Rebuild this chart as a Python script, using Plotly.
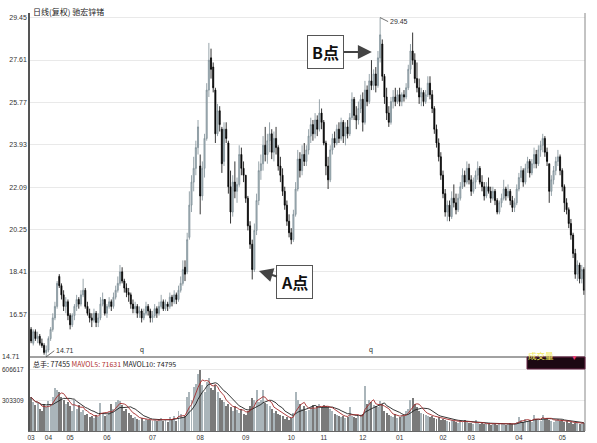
import plotly.graph_objects as go
import pandas as pd

# ---------------- data ----------------
month_labels = ["03", "04", "05", "06", "07", "08", "09", "10", "11", "12", "01", "02", "03", "04", "05"]
month_counts = [8, 10, 17, 21, 22, 21, 21, 15, 18, 17, 20, 13, 22, 20, 11]

opens = [
    15.9, 15.3, 15.8, 15.5, 15.6, 15.3, 15.2, 14.9,
    15.0, 15.5, 15.9, 16.4, 16.9, 18.2, 17.8, 17.4, 16.9, 17.1,
    16.5, 16.1, 16.5, 16.9, 17.2, 17.0, 17.4, 17.6, 16.9, 16.6, 16.4, 16.3, 16.6, 16.2, 16.4, 17.0, 17.2,
    16.6, 16.9, 17.1, 16.9, 17.3, 17.6, 17.9, 18.4, 18.0, 17.7, 17.5, 17.4, 17.0, 16.8, 16.9, 16.6, 16.7, 16.4, 16.6, 16.9, 16.7,
    16.4, 16.5, 16.8, 16.6, 16.9, 17.1, 16.8, 17.0, 16.9, 17.3, 17.1, 17.4, 17.2, 17.6, 17.9, 18.6, 18.4, 19.9, 21.3, 22.3, 22.9, 23.8,
    23.0, 21.7, 22.9, 24.2, 26.3, 27.7, 27.3, 26.3, 24.4, 25.4, 24.6, 23.2, 24.6, 24.0, 22.1, 21.0, 22.3, 21.9, 22.2, 23.5, 22.9,
    22.6, 21.6, 20.4, 19.6, 18.5, 20.2, 21.5, 22.8, 23.1, 23.9, 23.5, 24.1, 24.4, 23.6, 24.2, 23.8, 23.0, 22.6, 21.9, 21.3, 20.6,
    20.1, 19.8, 20.9, 22.0, 23.3, 22.8, 23.5, 23.2, 23.7, 24.3, 24.8, 24.4, 25.0, 24.6, 25.3,
    24.9, 24.0, 23.0, 22.4, 23.7, 24.2, 24.0, 24.6, 24.2, 24.9, 24.3, 24.7, 24.4, 25.1, 25.9, 25.2, 25.0, 25.5,
    25.9, 24.9, 26.3, 25.8, 26.7, 26.5, 27.0, 26.5, 27.7, 28.3, 26.9, 26.0, 25.3, 24.9, 25.8, 26.0, 25.8,
    26.1, 25.8, 26.1, 26.0, 26.4, 27.2, 28.0, 27.6, 26.8, 26.4, 26.0, 26.2, 25.8, 26.1, 26.6, 26.1, 25.5, 24.6, 24.0, 23.4,
    22.6, 21.8, 21.0, 21.3, 20.8, 21.6, 21.4, 21.1, 21.6, 22.1, 22.6, 22.3, 22.9,
    22.4, 21.9, 22.3, 22.6, 22.9, 22.3, 22.1, 21.7, 22.1, 21.9, 21.6, 21.9, 21.5, 21.0, 21.4, 21.6, 22.0, 21.7, 21.9, 21.5, 21.2, 21.4,
    22.0, 22.5, 22.8, 22.3, 22.9, 23.2, 22.7, 23.1, 23.5, 23.1, 23.7, 23.9, 24.2, 23.6, 23.1, 21.9, 22.4, 22.8, 23.2, 23.4,
    22.8, 22.1, 21.4, 21.1, 20.5, 20.0, 19.2, 18.3, 18.7, 18.1, 18.5,
]
highs = [
    16.0, 15.9, 15.9, 15.8, 15.7, 15.5, 15.3, 15.2,
    15.6, 16.0, 16.6, 17.1, 18.0, 18.3, 17.9, 17.6, 17.3, 17.2,
    16.6, 16.6, 17.0, 17.4, 17.3, 17.6, 18.1, 17.7, 17.1, 16.8, 16.6, 16.8, 16.7, 16.6, 17.3, 17.5, 17.2,
    17.0, 17.3, 17.2, 17.5, 17.8, 18.2, 18.7, 18.6, 18.1, 17.9, 17.7, 17.5, 17.2, 17.1, 17.0, 16.9, 16.8, 16.8, 17.1, 17.0, 16.8,
    16.7, 17.0, 16.9, 17.1, 17.4, 17.2, 17.2, 17.1, 17.5, 17.4, 17.6, 17.5, 17.8, 18.2, 18.9, 18.9, 20.1, 21.9, 22.6, 23.4, 24.1, 25.0,
    23.5, 23.2, 24.4, 26.6, 28.35, 28.1, 27.5, 26.4, 25.7, 25.6, 24.7, 24.9, 24.9, 24.1, 22.8, 22.6, 23.2, 22.5, 23.9, 23.8, 23.2,
    22.6, 21.7, 20.6, 19.8, 20.5, 21.8, 23.2, 23.5, 24.3, 24.7, 24.4, 24.9, 24.6, 24.5, 24.7, 23.9, 23.4, 22.9, 22.1, 21.5, 20.9,
    20.3, 21.1, 22.3, 23.7, 23.6, 23.9, 24.0, 23.9, 24.6, 25.1, 25.0, 25.3, 25.2, 25.9, 25.5,
    25.0, 24.1, 23.4, 23.9, 24.4, 24.5, 24.8, 24.9, 25.1, 25.0, 24.9, 25.0, 25.3, 26.2, 26.0, 25.6, 25.8, 26.1,
    26.2, 26.7, 26.5, 27.0, 27.6, 27.2, 27.3, 28.0, 29.45, 28.5, 27.0, 26.4, 25.6, 26.0, 26.3, 26.4, 26.3,
    26.4, 26.2, 26.3, 26.6, 27.4, 28.3, 28.8, 27.9, 27.5, 26.8, 26.4, 26.3, 26.3, 26.9, 26.9, 26.3, 25.6, 24.8, 24.2, 23.6,
    22.8, 22.0, 21.5, 21.5, 21.9, 22.2, 21.8, 21.8, 22.3, 22.9, 22.8, 23.2, 23.1,
    22.6, 22.5, 22.8, 23.2, 23.0, 22.6, 22.3, 22.3, 22.5, 22.1, 22.1, 22.0, 21.6, 21.5, 21.8, 22.4, 22.1, 22.2, 22.0, 21.7, 21.6, 22.2,
    22.7, 23.0, 22.9, 23.1, 23.4, 23.3, 23.3, 23.8, 23.7, 23.9, 24.1, 24.4, 24.3, 23.8, 23.1, 22.6, 23.0, 23.4, 23.7, 23.5,
    22.9, 22.2, 21.6, 21.2, 20.7, 20.1, 19.4, 18.9, 18.8, 18.7, 18.6,
]
lows = [
    15.3, 15.2, 15.4, 15.3, 15.2, 15.1, 14.8, 14.71,
    14.9, 15.4, 15.8, 16.3, 16.8, 17.7, 17.2, 16.7, 16.6, 16.3,
    15.9, 16.0, 16.3, 16.7, 16.8, 16.9, 17.3, 16.8, 16.5, 16.2, 16.0, 16.2, 16.0, 16.0, 16.3, 16.9, 16.5,
    16.4, 16.8, 16.7, 16.8, 17.2, 17.5, 17.8, 17.9, 17.5, 17.3, 17.1, 16.8, 16.6, 16.6, 16.4, 16.4, 16.2, 16.3, 16.5, 16.5, 16.2,
    16.2, 16.4, 16.4, 16.5, 16.8, 16.7, 16.7, 16.7, 16.8, 16.9, 17.0, 17.0, 17.1, 17.5, 17.8, 18.0, 18.3, 19.8, 21.0, 21.9, 22.6, 23.5,
    20.9, 21.5, 22.5, 24.1, 26.0, 26.8, 26.2, 24.0, 24.3, 24.5, 22.7, 23.0, 24.0, 21.8, 20.5, 20.8, 21.6, 21.4, 22.1, 22.6, 22.3,
    21.4, 20.2, 19.4, 18.07, 18.4, 20.0, 21.3, 22.4, 22.8, 23.2, 23.1, 23.6, 23.3, 23.2, 23.5, 22.8, 22.3, 21.7, 21.1, 20.4, 19.9,
    19.6, 19.7, 20.8, 21.9, 22.5, 22.6, 23.0, 23.0, 23.5, 24.0, 24.1, 24.2, 24.3, 24.5, 24.6,
    23.9, 22.6, 22.0, 22.3, 23.5, 23.8, 23.9, 24.0, 24.1, 24.0, 23.9, 24.2, 24.3, 25.0, 25.0, 24.6, 24.8, 25.3,
    24.5, 24.8, 25.6, 25.7, 26.3, 26.3, 26.2, 26.4, 27.5, 26.7, 25.7, 25.0, 24.7, 24.8, 25.5, 25.6, 25.7,
    25.6, 25.6, 25.8, 25.9, 26.3, 27.0, 27.4, 26.6, 26.2, 25.7, 25.6, 25.6, 25.7, 26.0, 25.9, 25.3, 24.4, 23.8, 23.2, 22.4,
    21.6, 20.8, 20.6, 20.6, 20.7, 21.2, 20.9, 21.0, 21.5, 22.0, 22.1, 22.2, 22.2,
    21.7, 21.8, 22.0, 22.4, 22.2, 21.9, 21.5, 21.6, 21.8, 21.4, 21.5, 21.3, 20.9, 20.9, 21.2, 21.5, 21.5, 21.6, 21.3, 21.0, 21.0, 21.3,
    21.9, 22.3, 22.1, 22.2, 22.7, 22.5, 22.6, 22.9, 22.9, 23.0, 23.4, 23.6, 23.4, 23.0, 21.4, 21.7, 22.2, 22.6, 23.0, 22.6,
    21.9, 21.0, 20.9, 20.3, 19.8, 19.0, 18.1, 18.0, 17.9, 17.9, 17.4,
]
closes = [
    15.4, 15.8, 15.5, 15.6, 15.3, 15.2, 14.9, 15.0,
    15.5, 15.9, 16.4, 16.9, 17.9, 17.8, 17.4, 16.9, 17.1, 16.5,
    16.1, 16.5, 16.9, 17.2, 17.0, 17.4, 17.6, 16.9, 16.6, 16.4, 16.3, 16.6, 16.2, 16.4, 17.0, 17.2, 16.6,
    16.9, 17.1, 16.9, 17.3, 17.6, 17.9, 18.4, 18.0, 17.7, 17.5, 17.4, 17.0, 16.8, 16.9, 16.6, 16.7, 16.4, 16.6, 16.9, 16.7, 16.4,
    16.5, 16.8, 16.6, 16.9, 17.1, 16.8, 17.0, 16.9, 17.3, 17.1, 17.4, 17.2, 17.6, 17.9, 18.5, 18.3, 19.8, 21.3, 22.3, 22.9, 23.8, 24.7,
    21.7, 22.9, 24.2, 26.3, 27.6, 27.2, 26.4, 24.4, 25.4, 24.8, 23.1, 24.6, 24.2, 22.1, 21.0, 22.3, 21.9, 22.2, 23.5, 22.9, 22.6,
    21.6, 20.4, 19.6, 18.5, 20.2, 21.5, 22.8, 23.1, 23.9, 23.5, 24.1, 24.4, 23.6, 24.2, 23.8, 23.0, 22.6, 21.9, 21.3, 20.6, 20.1,
    19.8, 20.9, 22.0, 23.3, 22.8, 23.5, 23.2, 23.7, 24.3, 24.8, 24.4, 25.0, 24.6, 25.3, 24.9,
    24.0, 23.0, 22.4, 23.7, 24.2, 24.0, 24.6, 24.2, 24.9, 24.3, 24.7, 24.4, 25.1, 25.9, 25.2, 25.0, 25.5, 25.9,
    24.9, 26.3, 25.8, 26.7, 26.5, 27.0, 26.5, 27.7, 28.7, 26.9, 26.0, 25.3, 24.9, 25.8, 26.0, 25.8, 26.1,
    25.8, 26.1, 26.0, 26.4, 27.2, 28.0, 27.6, 26.8, 26.4, 26.0, 26.2, 25.8, 26.1, 26.6, 26.1, 25.5, 24.6, 24.0, 23.4, 22.6,
    21.8, 21.0, 21.3, 20.8, 21.6, 21.4, 21.1, 21.6, 22.1, 22.6, 22.3, 22.9, 22.4,
    21.9, 22.3, 22.6, 22.9, 22.3, 22.1, 21.7, 22.1, 21.9, 21.6, 21.9, 21.5, 21.0, 21.4, 21.6, 22.0, 21.7, 21.9, 21.5, 21.2, 21.4, 22.0,
    22.5, 22.8, 22.3, 22.9, 23.2, 22.7, 23.1, 23.5, 23.1, 23.7, 23.9, 24.2, 23.6, 23.2, 21.9, 22.4, 22.8, 23.2, 23.4, 22.8,
    22.1, 21.4, 21.1, 20.5, 20.0, 19.2, 18.3, 18.7, 18.1, 18.5, 17.6,
]
volume_k = [
    330, 280, 250, 270, 220, 200, 260, 230,
    290, 250, 330, 420, 400, 380, 330, 300, 260, 280,
    240, 200, 300, 220, 250, 190, 210, 160, 170, 140, 150, 130, 160, 140, 270, 180, 150,
    160, 190, 260, 220, 280, 300, 290, 250, 200, 220, 180, 160, 130, 140, 120, 110, 130, 100, 120, 110, 105,
    100, 110, 95, 120, 130, 100, 110, 90, 140, 120, 150, 100, 200, 170, 130, 150, 330, 380, 300, 430, 460, 560,
    600, 450, 380, 480, 520, 420, 400, 450, 380, 320, 300, 280, 240, 260, 230, 200, 240, 210, 180, 220, 170,
    160, 200, 240, 320, 300, 400, 280, 300, 400, 270, 260, 240, 220, 180, 200, 170, 160, 150, 120, 140, 110,
    130, 180, 380, 300, 260, 220, 240, 200, 210, 230, 250, 220, 240, 260, 230,
    250, 240, 230, 220, 200, 170, 160, 150, 140, 150, 130, 140, 230, 150, 140, 130, 150, 160,
    170, 440, 260, 300, 280, 250, 240, 230, 290, 260, 200, 180, 160, 150, 140, 170, 130,
    140, 160, 150, 200, 220, 300, 320, 260, 230, 200, 180, 170, 160, 150, 140, 150, 130, 120, 140, 110,
    120, 110, 100, 90, 110, 100, 90, 80, 100, 90, 110, 90, 80,
    80, 70, 110, 80, 70, 75, 65, 70, 80, 60, 70, 65, 60, 70, 75, 65, 60, 70, 80, 65, 75, 90,
    140, 110, 90, 120, 100, 110, 90, 160, 120, 110, 100, 160, 120, 130, 110, 100, 90, 110, 120, 100,
    110, 90, 100, 80, 90, 70, 80, 75, 70, 80, 77.455,
]
price_ticks = [16.5525, 18.395, 20.2375, 22.08, 23.9225, 25.765, 27.6075, 29.45]
price_tick_text = ["16.57", "18.41", "20.25", "22.09", "23.93", "25.77", "27.61", "29.45"]
vol_ticks = [303309, 606617]
header_total, header_ma5, header_ma10 = "77455", "71631", "74795"
title_text = "日线(复权) 驰宏锌锗"

# ---------------- derived ----------------
n = len(closes)
idx = list(range(n))
volume = [v * 1000 for v in volume_k]
month_pos = []
acc = 0
for c in month_counts:
    month_pos.append(acc)
    acc += c
vs = pd.Series(volume)
ma5 = vs.rolling(5, min_periods=1).mean()
ma10 = vs.rolling(10, min_periods=1).mean()
bar_colors = ["#aab5ba" if c >= o else "#7a7a7a" for o, c in zip(opens, closes)]

# ---------------- layout helpers ----------------
W, H = 597, 443
L, R, T, B = 30, 12, 13, 12
PW, PH = W - L - R, H - T - B
def fx(p):
    return (p - L) / PW
def fy(p):
    return (H - B - p) / PH
split = fy(357)

FONT = "Liberation Sans, Noto Sans CJK SC, sans-serif"
CJK = "Noto Sans CJK SC, Liberation Sans, sans-serif"

fig = go.Figure()
fig.add_trace(go.Candlestick(
    x=idx, open=opens, high=highs, low=lows, close=closes,
    xaxis="x", yaxis="y",
    increasing=dict(line=dict(color="#7d8e96", width=0.8), fillcolor="#b3c1c8"),
    decreasing=dict(line=dict(color="#000000", width=0.8), fillcolor="#000000"),
    whiskerwidth=0, showlegend=False, hoverinfo="skip",
))
fig.add_trace(go.Bar(
    x=idx, y=volume, xaxis="x2", yaxis="y2", width=0.45,
    marker=dict(color=bar_colors, line=dict(width=0)), showlegend=False, hoverinfo="skip",
))
fig.add_trace(go.Scatter(x=idx, y=ma10, xaxis="x2", yaxis="y2", mode="lines",
                         line=dict(color="#1e1e1e", width=0.9), showlegend=False, hoverinfo="skip"))
fig.add_trace(go.Scatter(x=idx, y=ma5, xaxis="x2", yaxis="y2", mode="lines",
                         line=dict(color="#a52a2a", width=0.9), showlegend=False, hoverinfo="skip"))

xr = [-0.5, n - 0.5]
annotations = [
    dict(xref="paper", yref="paper", x=fx(31), y=fy(12), xanchor="left", yanchor="middle",
         text=title_text, showarrow=False, font=dict(family=CJK, size=8, color="#222")),
    dict(xref="paper", yref="y", x=fx(0), y=14.71, xanchor="left", yanchor="middle",
         text="14.71", showarrow=False, font=dict(family=FONT, size=7, color="#333")),
    dict(xref="paper", yref="y2", x=fx(0), y=vol_ticks[1], xanchor="left", yanchor="middle",
         text=str(vol_ticks[1]), showarrow=False, font=dict(family=FONT, size=6.5, color="#333")),
    dict(xref="paper", yref="y2", x=fx(0), y=vol_ticks[0], xanchor="left", yanchor="middle",
         text=str(vol_ticks[0]), showarrow=False, font=dict(family=FONT, size=6.5, color="#333")),
    dict(xref="paper", yref="paper", x=fx(31), y=fy(364), xanchor="left", yanchor="middle",
         text="总手: " + header_total + " <span style='color:#b03030'>MAVOL5: " + header_ma5 +
              "</span> MAVOL10: " + header_ma10,
         showarrow=False, font=dict(family=CJK, size=7, color="#222")),
    # low / high markers
    dict(xref="x", yref="y", x=lows.index(min(lows)), y=min(lows), text="14.71",
         xanchor="left", yanchor="middle", showarrow=True, arrowhead=0, arrowwidth=0.7,
         arrowcolor="#333", ax=8, ay=-6, font=dict(family=FONT, size=7, color="#333")),
    dict(xref="x", yref="y", x=highs.index(max(highs)), y=max(highs), text="29.45",
         xanchor="left", yanchor="middle", showarrow=True, arrowhead=0, arrowwidth=0.7,
         arrowcolor="#333", ax=8, ay=4, font=dict(family=FONT, size=7, color="#333")),
    # q marks
    dict(xref="x", yref="y", x=51, y=14.75, text="q", showarrow=False, yanchor="bottom",
         font=dict(family=FONT, size=7, color="#222222")),
    dict(xref="x", yref="y", x=157, y=14.75, text="q", showarrow=False, yanchor="bottom",
         font=dict(family=FONT, size=7, color="#222222")),
    # A / B callouts
    dict(xref="x", yref="y", x=157.2, y=27.95, text="<b>B点</b>", showarrow=True,
         arrowhead=2, arrowsize=1.4, arrowwidth=2, arrowcolor="#444", ax=-46, ay=0,
         bgcolor="white", bordercolor="#555", borderwidth=1, borderpad=4,
         font=dict(family=CJK, size=16, color="#111")),
    dict(xref="x", yref="y", x=105.1, y=18.44, text="<b>A点</b>", showarrow=True,
         arrowhead=2, arrowsize=1.4, arrowwidth=2, arrowcolor="#444", ax=36, ay=11,
         bgcolor="white", bordercolor="#555", borderwidth=1, borderpad=4,
         font=dict(family=CJK, size=16, color="#111")),
    # volume selector button
    dict(xref="paper", yref="paper", x=fx(556), y=fy(363), text="成交量", showarrow=False,
         font=dict(family=CJK, size=8.5, color="#f2ea5c")),
    dict(xref="paper", yref="paper", x=fx(579), y=fy(363), text="▼", showarrow=False,
         font=dict(family=FONT, size=6.5, color="#ee3a76")),
]

shapes = [
    dict(type="line", xref="paper", yref="paper", x0=0, x1=1, y0=split, y1=split,
         line=dict(color="#444", width=1)),
    dict(type="line", xref="paper", yref="paper", x0=1, x1=1, y0=0, y1=1,
         line=dict(color="#888", width=1)),
    dict(type="rect", xref="paper", yref="paper", x0=fx(527), x1=fx(585), y0=fy(369), y1=fy(357),
         fillcolor="#1c0812", line=dict(color="#6a2446", width=1)),
]

fig.update_layout(
    width=W, height=H, autosize=False,
    margin=dict(l=L, r=R, t=T, b=B, pad=0, autoexpand=False),
    paper_bgcolor="white", plot_bgcolor="white",
    font=dict(family=FONT, size=7, color="#333"),
    showlegend=False, bargap=0,
    xaxis=dict(domain=[0, 1], anchor="y", range=xr, showticklabels=False, showgrid=False,
               zeroline=False, rangeslider=dict(visible=False), showline=False, ticks="",
               automargin=False),
    xaxis2=dict(domain=[0, 1], anchor="y2", range=xr, matches="x", tickmode="array",
                tickvals=month_pos, ticktext=month_labels, showgrid=False, zeroline=False,
                showline=True, linecolor="#666", linewidth=1, ticks="", automargin=False,
                tickfont=dict(size=6.5, color="#333")),
    yaxis=dict(domain=[split, 1], anchor="x", range=[14.70, 29.65], tickmode="array",
               tickvals=price_ticks, ticktext=price_tick_text, showgrid=True, gridcolor="#e9e9e9",
               gridwidth=1, zeroline=False, showline=True, linecolor="#555", linewidth=1.5,
               ticks="", automargin=False, tickfont=dict(size=7, color="#333")),
    yaxis2=dict(domain=[0, split], anchor="x2", range=[0, 724000], tickmode="array",
                tickvals=vol_ticks, showticklabels=False, showgrid=True, gridcolor="#e9e9e9",
                zeroline=False, showline=True, linecolor="#555", linewidth=1.5, ticks="",
                automargin=False),
    annotations=annotations,
    shapes=shapes,
)

fig.write_html("out.html")
